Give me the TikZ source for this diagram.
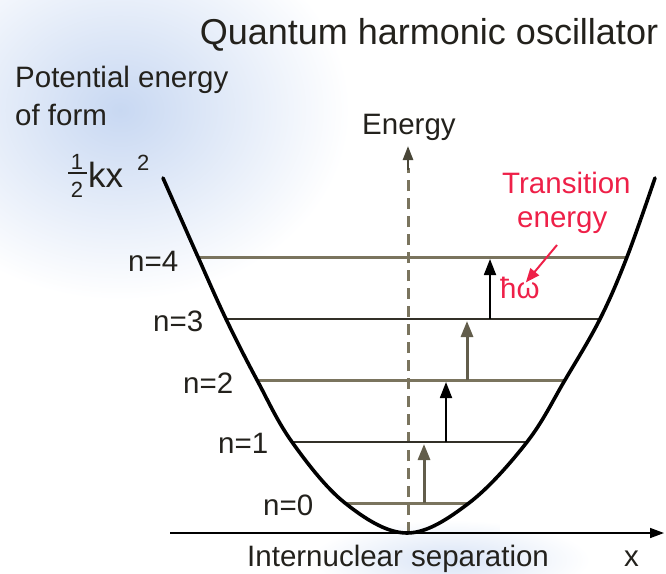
\documentclass[tikz,border=0pt]{standalone}
\usepackage{fontspec}
\setmainfont{Liberation Sans}
\usetikzlibrary{arrows.meta}
\definecolor{olive}{RGB}{122,116,94}
\definecolor{darkline}{RGB}{50,48,40}
\definecolor{trred}{RGB}{238,32,72}
\definecolor{txt}{RGB}{35,33,28}
\definecolor{bgblue}{RGB}{200,216,242}
\tikzset{
  lbl/.style={inner sep=0pt, anchor=base west, text=txt, font=\fontsize{29.5}{34}\selectfont},
  small/.style={inner sep=0pt, anchor=base, text=txt, font=\fontsize{22}{24}\selectfont},
  thicklevel/.style={draw=olive, line width=3pt},
  thinlevel/.style={draw=darkline, line width=1.8pt},
  uparrow/.style={-{Triangle[length=16pt,width=12pt]}, shorten >=2pt},
}
\begin{document}
\begin{tikzpicture}[x=1pt,y=-1pt]
\useasboundingbox (0,0) rectangle (666,573);
% faint background
\shade[inner color=bgblue, outer color=white] (120,110) ellipse [x radius=230, y radius=190];
\shade[inner color=bgblue!70, outer color=white] (450,560) ellipse [x radius=140, y radius=40];
\fill[white] (500,470) rectangle (666,532);
% title and labels
\node[inner sep=0pt, anchor=base, text=txt, font=\fontsize{36}{40}\selectfont] (title) at (429,44) {Quantum harmonic oscillator};
\node[lbl] (pot1) at (15,87) {Potential energy};
\node[lbl] (pot2) at (15,125) {of form};
\node[small] (one) at (77,169) {1};
\node[small] (two) at (77,197) {2};
\coordinate (barL) at (68,173);
\coordinate (barR) at (87,173);
\draw[txt, line width=1.2pt] (barL) -- (barR);
\node[lbl, font=\fontsize{35}{40}\selectfont] (kx) at (88,187) {kx};
\node[small, anchor=base west] (sq) at (137,170) {2};
% axis
\coordinate (axL) at (170,533);
\coordinate (axR) at (664,533);
\draw[black, line width=1.5pt, -{Triangle[length=14pt,width=10pt]}] (axL) -- (axR);
\node[lbl] (sep) at (247,566) {Internuclear separation};
\node[lbl] (xl) at (624,566) {x};
% energy axis
\coordinate (eB) at (408,533);
\coordinate (eT) at (408,146);
\draw[olive, line width=3pt, dash pattern=on 11pt off 7pt] (eB) -- (408,168);
\draw[olive!60!black, line width=2.5pt, -{Triangle[length=14pt,width=10pt]}] (408,170) -- (eT);
\node[lbl] (energy) at (362,134) {Energy};
% levels
\coordinate (l4a) at (199,257); \coordinate (l4b) at (627,257);
\coordinate (l3a) at (227,319); \coordinate (l3b) at (600,319);
\coordinate (l2a) at (258,380); \coordinate (l2b) at (565,380);
\coordinate (l1a) at (293,442); \coordinate (l1b) at (527,442);
\coordinate (l0a) at (345,503); \coordinate (l0b) at (469,503);
\draw[thicklevel] (l4a) -- (l4b);
\draw[thinlevel] (l3a) -- (l3b);
\draw[thicklevel] (l2a) -- (l2b);
\draw[thinlevel] (l1a) -- (l1b);
\draw[thicklevel] (l0a) -- (l0b);
\node[lbl] (n4) at (128,271) {n=4};
\node[lbl] (n3) at (153,331) {n=3};
\node[lbl] (n2) at (183,393) {n=2};
\node[lbl] (n1) at (218,453) {n=1};
\node[lbl] (n0) at (263,515) {n=0};
% parabola
\draw[black, line width=3.6pt, line cap=round] plot[smooth, tension=0.6] coordinates {
 (163,178) (198,257) (226,319) (257,380) (292,442) (345,503) (407,533)
 (469,503) (527,442) (565,380) (600,319) (627,257) (655,178)};
% transition arrows
\coordinate (a0) at (424,503); \coordinate (a1) at (424,442);
\coordinate (b1) at (446,442); \coordinate (b2) at (446,380);
\coordinate (c2) at (467,380); \coordinate (c3) at (467,319);
\coordinate (d3) at (490,319); \coordinate (d4) at (490,257);
\draw[uparrow, olive!80!black, line width=3pt] (a0) -- (a1);
\draw[uparrow, black, line width=1.8pt] (b1) -- (b2);
\draw[uparrow, olive!80!black, line width=3pt] (c2) -- (c3);
\draw[uparrow, black, line width=1.8pt] (d3) -- (d4);
% red annotation
\node[lbl, text=trred] (tr1) at (502,193) {Transition};
\node[lbl, text=trred] (tr2) at (517,227) {energy};
\node[lbl, text=trred] (hw) at (500,298) {ħω};
\coordinate (ra) at (557,245);
\draw[trred, line width=2pt, -{Triangle[length=14pt,width=11pt]}] (ra) -- ([shift={(-14,6)}]hw.north east);
\end{tikzpicture}
\end{document}
